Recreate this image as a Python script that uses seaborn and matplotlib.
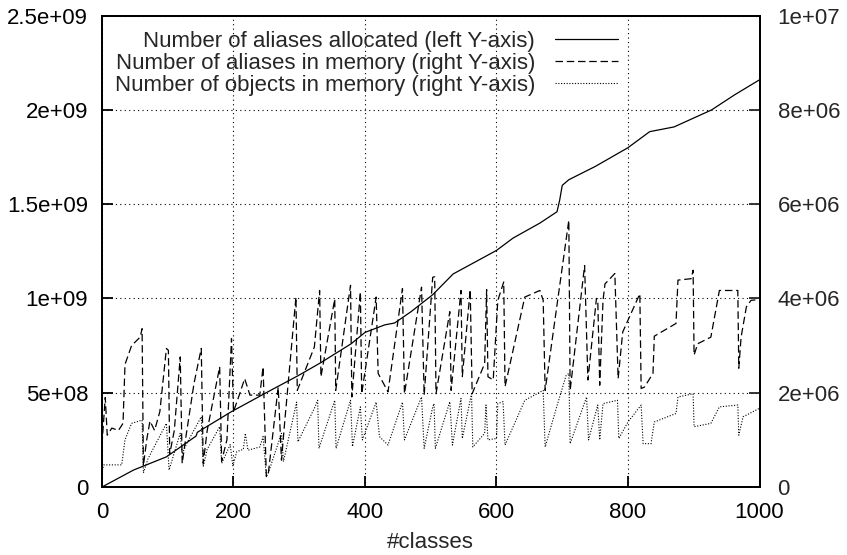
import numpy as np
import pandas as pd
import matplotlib
matplotlib.use("Agg")
import matplotlib.pyplot as plt
import seaborn as sns

# aliases allocated (left axis, in 1e9)
alloc_x = [0, 48, 98, 143, 145, 197, 255, 298, 333, 379, 400, 430, 445, 470, 503,
           534, 600, 625, 666, 692, 696, 700, 710, 750, 800, 833, 870, 927, 962, 1000]
alloc_y = [0, 0.09, 0.16, 0.27, 0.29, 0.40, 0.51, 0.59, 0.66, 0.76, 0.82, 0.86, 0.87, 0.93, 1.02,
           1.13, 1.255, 1.32, 1.40, 1.46, 1.52, 1.60, 1.63, 1.70, 1.80, 1.885, 1.91, 2.0, 2.08, 2.16]

# aliases in memory (right axis, in 1e6)
mem_x = [0, 5, 8, 15, 25, 32, 35, 45, 58, 61, 63, 68, 73, 80, 88, 98, 101, 103, 110, 119,
         122, 128, 140, 151, 154, 160, 179, 182, 190, 197, 200, 210, 217, 225, 240, 245, 250,
         253, 268, 273, 278, 295, 297, 323, 331, 333, 354, 355.5, 378, 380, 393, 395, 417, 420,
         435, 457, 460, 486, 490, 503, 506, 508, 529, 531, 546, 548, 560, 563, 582, 585, 587,
         595, 602, 611, 613, 643, 666, 671, 674, 693, 710, 712, 734, 739, 752, 754, 757, 762,
         765, 780, 785, 792, 818, 820, 825, 838, 840, 873, 876, 896, 899, 900.5, 906, 926, 939,
         967, 968.5, 972, 980, 987, 1000]
mem_y = [0.9, 1.9, 1.1, 1.25, 1.2, 1.35, 2.6, 3.0, 3.18, 3.36, 0.45, 1.0, 1.4, 1.2, 1.6, 2.94,
         2.9, 0.7, 1.2, 2.76, 0.5, 1.1, 2.2, 2.94, 0.5, 1.2, 2.55, 0.55, 1.0, 3.15, 1.6, 2.0, 2.3,
         1.95, 1.95, 2.55, 0.22, 0.29, 2.12, 0.57, 1.4, 4.03, 2.05, 2.97, 4.17, 2.34, 3.99, 2.05,
         4.28, 1.91, 4.14, 1.98, 4.03, 2.41, 2.02, 4.21, 1.98, 4.24, 1.95, 4.45, 4.46, 1.98, 3.72,
         2.05, 4.17, 2.34, 4.19, 1.98, 2.62, 4.19, 2.34, 2.27, 3.96, 4.35, 2.13, 4.03, 4.17, 3.96,
         2.05, 3.96, 5.66, 2.05, 4.7, 2.27, 4.0, 3.99, 2.16, 3.96, 4.31, 4.53, 2.3, 3.29, 4.1,
         2.09, 2.12, 2.41, 3.2, 3.47, 4.39, 4.42, 4.6, 2.8, 3.04, 3.18, 4.17, 4.17, 2.52, 3.18,
         3.82, 3.96, 3.98]

# objects in memory (right axis, in 1e6)
obj_x = [0, 3, 30, 35, 45, 61, 63, 70, 98, 102, 119, 122, 128, 151, 154, 160, 179, 182, 195,
         199, 205, 215, 218, 222, 240, 245, 250, 253, 273, 276, 296, 298, 324, 328, 330, 354,
         356, 378, 381, 393, 396, 417, 422, 435, 457, 460, 486, 490, 503, 505, 507, 529, 533,
         546, 548, 562, 564, 582, 584, 587, 600, 602, 610, 613, 643, 671, 674, 693, 706, 710,
         712, 737, 740, 754, 757, 762, 784, 786, 800, 820, 823, 835, 840, 873, 876, 899, 900.5,
         926, 939, 967, 968.5, 975, 1000]
obj_y = [0.35, 0.47, 0.47, 1.0, 1.35, 1.42, 0.3, 0.6, 1.35, 0.36, 1.14, 0.7, 0.9, 1.49, 0.43,
         0.8, 1.28, 0.5, 0.9, 0.45, 0.75, 0.8, 1.14, 0.78, 0.85, 1.07, 0.22, 0.3, 1.14, 0.54, 1.8,
         0.96, 1.7, 1.84, 0.82, 1.84, 0.82, 1.84, 0.86, 1.7, 1.0, 1.8, 1.07, 0.89, 1.8, 1.0, 1.91,
         0.82, 1.7, 1.77, 0.82, 1.81, 0.89, 1.88, 1.03, 1.98, 0.85, 1.14, 1.74, 1.0, 1.03, 1.77,
         1.81, 0.89, 1.84, 2.05, 0.85, 1.77, 2.37, 2.41, 0.92, 1.91, 1.0, 1.74, 1.0, 1.77, 1.84,
         1.03, 1.38, 1.74, 0.92, 0.92, 1.38, 1.56, 1.91, 1.98, 1.28, 1.35, 1.70, 1.74, 1.1, 1.49,
         1.67]

x_ticks = [0, 200, 400, 600, 800, 1000]
left_ticks = [0, 5e8, 1e9, 1.5e9, 2e9, 2.5e9]
left_labels = ["0", "5e+08", "1e+09", "1.5e+09", "2e+09", "2.5e+09"]
right_ticks = [0, 2e6, 4e6, 6e6, 8e6, 1e7]
right_labels = ["0", "2e+06", "4e+06", "6e+06", "8e+06", "1e+07"]

sns.set_style("ticks")
plt.rcParams['font.family'] = ['Liberation Sans', 'DejaVu Sans']
plt.rcParams['font.size'] = 16

fig, ax = plt.subplots(figsize=(8.47, 5.55), dpi=100)
fig.subplots_adjust(left=0.1204, right=0.8967, top=0.9717, bottom=0.1225)
ax2 = ax.twinx()

df_alloc = pd.DataFrame({"classes": alloc_x, "value": np.array(alloc_y) * 1e9})
df_mem = pd.DataFrame({"classes": mem_x, "value": np.array(mem_y) * 1e6})
df_obj = pd.DataFrame({"classes": obj_x, "value": np.array(obj_y) * 1e6})

sns.lineplot(data=df_alloc, x="classes", y="value", ax=ax, color="black", linewidth=0.9,
             sort=False, estimator=None, legend=False,
             label="Number of aliases allocated (left Y-axis)")
sns.lineplot(data=df_mem, x="classes", y="value", ax=ax2, color="black", linewidth=0.9,
             linestyle=(0, (6, 3)), sort=False, estimator=None, legend=False,
             label="Number of aliases in memory (right Y-axis)")
sns.lineplot(data=df_obj, x="classes", y="value", ax=ax2, color="black", linewidth=0.8,
             linestyle=(0, (1, 1.5)), sort=False, estimator=None, legend=False,
             label="Number of objects in memory (right Y-axis)")

ax.set_xlim(0, 1000)
ax.set_ylim(0, 2.5e9)
ax2.set_ylim(0, 1e7)
ax.set_xticks(x_ticks)
ax.set_xticklabels([str(t) for t in x_ticks])
ax.set_yticks(left_ticks)
ax.set_yticklabels(left_labels)
ax2.set_yticks(right_ticks)
ax2.set_yticklabels(right_labels)

ax.set_xlabel("#classes", labelpad=6)
ax.set_ylabel("")
ax2.set_ylabel("")

ax.grid(True, linestyle=(0, (1, 3)), color="black", linewidth=0.8)
ax.tick_params(axis="both", direction="in", length=8, width=1.3, colors="black", labelsize=16)
ax.tick_params(axis="y", pad=10, right=False)
ax.tick_params(axis="x", pad=11, top=False)
ax2.tick_params(axis="y", direction="in", length=8, width=1.3, pad=13, labelsize=16)

for a in (ax, ax2):
    for s in a.spines.values():
        s.set_visible(True)
        s.set_linewidth(1.4)
        s.set_color("black")

h1, l1 = ax.get_legend_handles_labels()
h2, l2 = ax2.get_legend_handles_labels()
ax2.legend(h1 + h2, l1 + l2, loc="upper right", bbox_to_anchor=(0.808, 1.0),
           frameon=False, markerfirst=False, handlelength=2.85, handletextpad=0.9,
           labelspacing=0.06, borderaxespad=0, borderpad=0.67, fontsize=16)

plt.savefig("out.png", dpi=100)
